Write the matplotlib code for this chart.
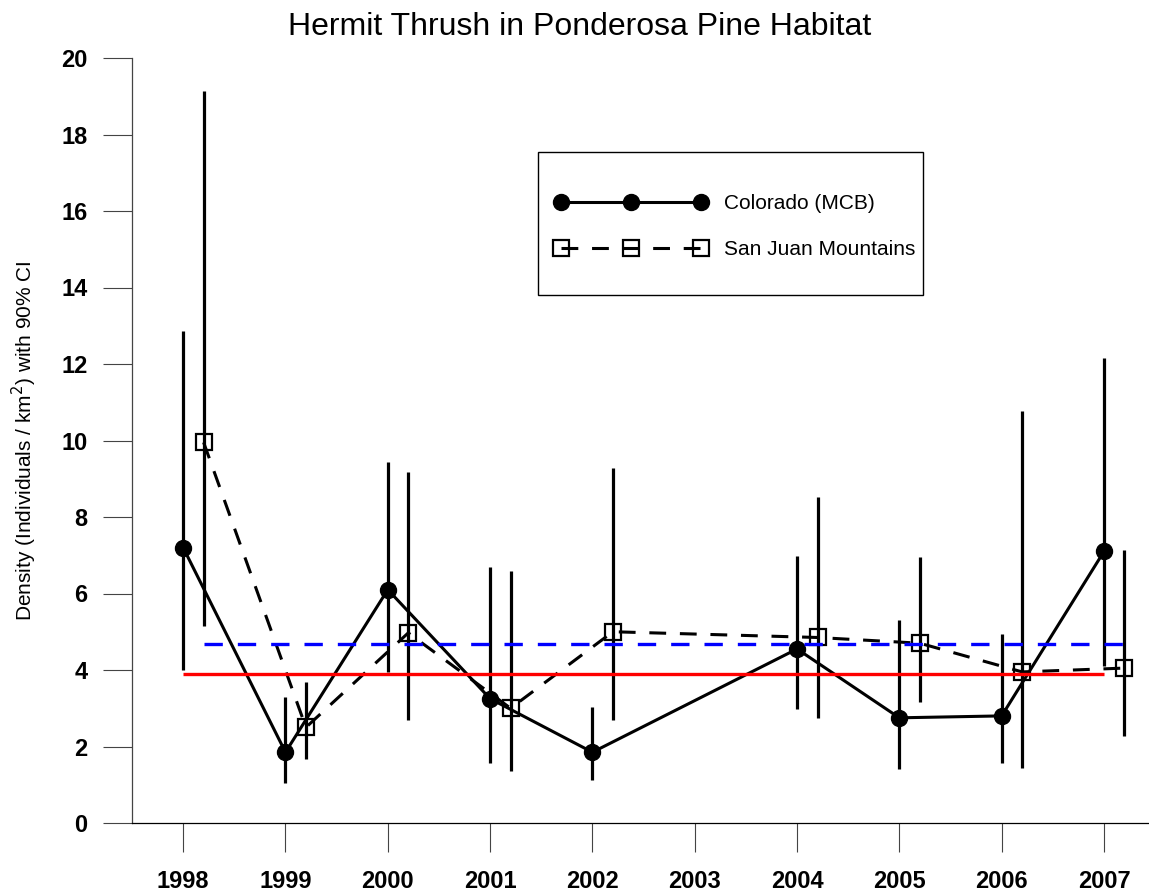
import matplotlib
matplotlib.use("Agg")
import matplotlib.pyplot as plt
from matplotlib.patches import Rectangle

plt.rcParams["font.family"] = ["Liberation Sans", "DejaVu Sans"]

# Survey years (2003 has no estimate)
years = [1998, 1999, 2000, 2001, 2002, 2003, 2004, 2005, 2006, 2007]
data_years = [1998, 1999, 2000, 2001, 2002, 2004, 2005, 2006, 2007]

# Colorado (MCB) density and 90% CI
colorado_density = [7.2, 1.85, 6.1, 3.25, 1.85, 4.55, 2.75, 2.8, 7.1]
colorado_lower = [4.0, 1.05, 3.95, 1.57, 1.12, 2.98, 1.41, 1.57, 4.1]
colorado_upper = [12.85, 3.3, 9.44, 6.69, 3.03, 6.98, 5.31, 4.94, 12.15]

# San Juan Mountains density and 90% CI
sanjuan_density = [9.95, 2.5, 4.97, 3.0, 5.0, 4.85, 4.7, 3.95, 4.05]
sanjuan_lower = [5.15, 1.67, 2.69, 1.36, 2.69, 2.74, 3.16, 1.44, 2.28]
sanjuan_upper = [19.15, 3.69, 9.18, 6.6, 9.28, 8.53, 6.96, 10.77, 7.14]

# overall means
colorado_mean = 3.9
sanjuan_mean = 4.67

offset = 0.2  # San Juan points drawn slightly right of the year

fig = plt.figure(figsize=(11.49, 8.94), dpi=100)
ax = fig.add_axes([132 / 1149, 1 - 823 / 894, 1 - 132 / 1149, (823 - 58) / 894])

x_co = list(data_years)
x_sj = [y + offset for y in data_years]

co_err = [[d - lo for d, lo in zip(colorado_density, colorado_lower)],
          [up - d for d, up in zip(colorado_density, colorado_upper)]]
sj_err = [[d - lo for d, lo in zip(sanjuan_density, sanjuan_lower)],
          [up - d for d, up in zip(sanjuan_density, sanjuan_upper)]]

ax.errorbar(x_co, colorado_density, yerr=co_err, fmt="none", ecolor="black",
            elinewidth=2.3, capsize=0, zorder=2)
ax.errorbar(x_sj, sanjuan_density, yerr=sj_err, fmt="none", ecolor="black",
            elinewidth=2.3, capsize=0, zorder=2)

ax.plot(x_co, colorado_density, color="black", lw=2.2, marker="o",
        markersize=11.5, markerfacecolor="black", label="Colorado (MCB)", zorder=3)
ax.plot(x_sj, sanjuan_density, color="black", lw=2.2, dashes=(5.5, 4.5),
        marker="s", markersize=12, markerfacecolor="none", markeredgewidth=1.6,
        markeredgecolor="black", label="San Juan Mountains", zorder=3)

# mean lines
ax.hlines(colorado_mean, x_co[0], x_co[-1], colors="red", lw=2.4, zorder=4)
ax.hlines(sanjuan_mean, x_sj[0], x_sj[-1], colors="blue", lw=2.4,
          linestyles=(0, (5.5, 4.5)), zorder=4)

ax.set_xlim(1997.5, 2007.44)
ax.set_ylim(0, 20)
ax.set_xticks(years)
ax.set_xticklabels([str(y) for y in years])
ax.set_yticks(range(0, 21, 2))

for side in ["top", "right"]:
    ax.spines[side].set_visible(False)
ax.spines["left"].set_color("#444444")
ax.spines["bottom"].set_color("black")
ax.spines["left"].set_linewidth(0.9)
ax.spines["bottom"].set_linewidth(0.9)

ax.tick_params(axis="both", direction="out", length=21, width=0.8, color="#444444",
               labelsize=17)
ax.tick_params(axis="x", pad=13)
ax.tick_params(axis="y", pad=11)
for lab in ax.get_xticklabels() + ax.get_yticklabels():
    lab.set_fontweight("bold")

ax.set_ylabel("Density (Individuals / km$^2$) with 90% CI", fontsize=15)
ax.yaxis.set_label_coords(-0.091, 0.5)

fig.suptitle("Hermit Thrush in Ponderosa Pine Habitat", fontsize=23,
             x=580 / 1149, y=1 - 27 / 894, va="center")

# legend box drawn separately so its size matches the original
box = Rectangle((538 / 1149, 1 - 295 / 894), (923 - 538) / 1149, (295 - 152) / 894,
                transform=fig.transFigure, facecolor="white", edgecolor="black",
                lw=1.0, zorder=5, clip_on=False)
ax.add_patch(box)
leg = ax.legend(loc="upper left", bbox_to_anchor=(555 / 1149, 1 - 194 / 894),
                bbox_transform=fig.transFigure, borderaxespad=0, numpoints=3,
                handlelength=7.3, handletextpad=0.8, borderpad=0,
                labelspacing=1.3, fontsize=15, frameon=False)
leg.set_zorder(6)

fig.savefig("out.png", dpi=100)
